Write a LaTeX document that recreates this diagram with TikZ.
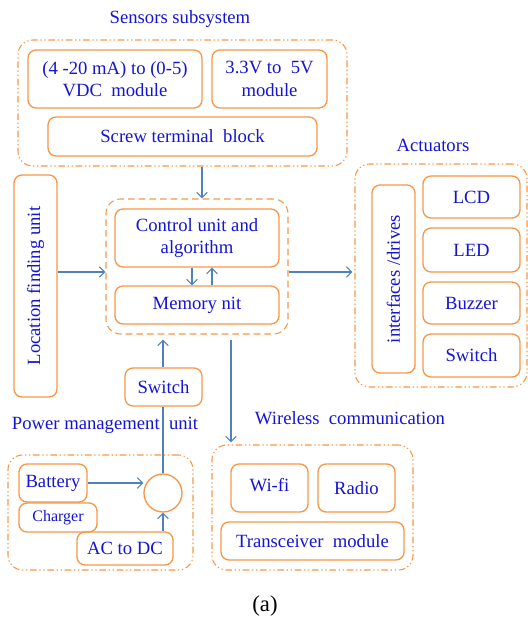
\documentclass[tikz,border=0pt]{standalone}
\usepackage{fontspec}
\setmainfont{Liberation Serif}
\usetikzlibrary{arrows.meta,calc}
\definecolor{orng}{RGB}{247,150,70}
\definecolor{txtb}{RGB}{20,20,210}
\definecolor{arrb}{RGB}{79,129,189}
\begin{document}
\begin{tikzpicture}[x=0.75pt,y=-0.75pt,
 sz/.style 2 args={minimum width=#1*0.75pt, minimum height=#2*0.75pt},
 inbox/.style={draw=orng, line width=1pt, rounded corners=6pt, text=txtb, font=\fontsize{14}{17}\selectfont, align=center, inner sep=0pt},
 outbox/.style={draw=orng, line width=0.8pt, rounded corners=11pt, inner sep=0pt, dash pattern=on 5pt off 2pt on 1pt off 2pt on 1pt off 2pt},
 dbox/.style={draw=orng, line width=0.8pt, rounded corners=11pt, inner sep=0pt, dash pattern=on 5pt off 3pt},
 ttl/.style={text=txtb, font=\fontsize{14}{17}\selectfont, inner sep=0pt},
 vtxt/.style={text=txtb, font=\fontsize{14}{17}\selectfont, rotate=90, inner sep=0pt},
 arr/.style={draw=arrb, line width=0.8pt, -{Straight Barb[length=4pt,width=8pt]}},
 ln/.style={draw=arrb, line width=0.8pt}]
\useasboundingbox (0,0) rectangle (528,621);

% Sensors subsystem
\node[ttl] (tsens) at (180,19) {Sensors subsystem};
\node[outbox, sz={329}{126}] (sens) at (182.5,103) {};
\node[inbox, sz={174}{58}] (s1) at (115,79) {(4 -20 mA) to (0-5)\\VDC\ \ module};
\node[inbox, sz={115}{58}] (s2) at (269.5,79) {3.3V to\ \ 5V\\module};
\node[inbox, sz={269}{39}] (screw) at (182.5,136.5) {Screw terminal\ \ block};

% Control
\node[dbox, sz={182}{135}] (ctrl) at (197,266.5) {};
\node[inbox, sz={164}{58}] (cu) at (197,238) {Control unit and\\algorithm};
\node[inbox, sz={164}{38}] (mem) at (197,305) {Memory nit};

% Location
\node[inbox, sz={43}{222}] (loc) at (35.5,286) {};
\node[vtxt] (loct) at (loc.center) {Location finding unit};

% Actuators
\node[ttl] (tact) at (433,145) {Actuators};
\node[outbox, sz={172}{223}] (act) at (441,275.5) {};
\node[inbox, sz={43}{188}] (intf) at (393.5,279) {};
\node[vtxt] (intft) at (intf.center) {interfaces /drives};
\node[inbox, sz={97}{42}] (lcd) at (471.5,197) {LCD};
\node[inbox, sz={97}{44}] (led) at (471.5,250) {LED};
\node[inbox, sz={97}{42}] (buz) at (471.5,303) {Buzzer};
\node[inbox, sz={97}{43}] (asw) at (471.5,355.5) {Switch};

% Power
\node[inbox, sz={77}{38}] (psw) at (163.5,387) {Switch};
\node[ttl] (tpow) at (105,425) {Power management\ \ unit};
\node[outbox, sz={185}{115}] (pow) at (100.5,512.5) {};
\node[inbox, sz={68}{38}] (bat) at (53,483) {Battery};
\node[inbox, sz={78}{29}, font=\fontsize{12}{14}\selectfont] (chg) at (58,517.5) {Charger};
\node[inbox, sz={96}{33}] (acdc) at (125,548.5) {AC to DC};
\node[draw=orng, line width=1pt, circle, minimum size=38*0.75pt, inner sep=0pt] (circ) at (163,493) {};

% Wireless
\node[ttl] (twl) at (350,418) {Wireless\ \ communication};
\node[outbox, sz={201}{125}] (wl) at (312.5,507.5) {};
\node[inbox, sz={77}{48}] (wifi) at (269.5,488) {\raisebox{4pt}{Wi-fi}};
\node[inbox, sz={77}{48}] (radio) at (356.5,488) {Radio};
\node[inbox, sz={183}{38}] (trx) at (312.5,541) {Transceiver\ \ module};

\node[font=\fontsize{17}{20}\selectfont, inner sep=0pt] (cap) at (265,606) {(a)};

% helper coordinates
\coordinate (xs) at (202,0);
\coordinate (yl) at (0,272);
\coordinate (xd) at (192,0);
\coordinate (xu) at (212,0);
\coordinate (xw) at (231,0);

% connectors
\draw[arr] (sens.south -| xs) -- (ctrl.north -| xs);
\draw[arr] (loc.east |- yl) -- (ctrl.west |- yl);
\draw[arr] (ctrl.east |- yl) -- ($(act.west |- yl)+(-2,0)$);
\draw[arr] (cu.south -| xd) -- (mem.north -| xd);
\draw[arr] (mem.north -| xu) -- (cu.south -| xu);
\draw[arr] (psw.north -| circ.north) -- ($(ctrl.south -| circ.north)+(0,5)$);
\draw[ln] (circ.north) -- (psw.south -| circ.north);
\draw[arr] (bat.east) -- (bat.east -| circ.west);
\draw[arr] (circ.south |- acdc.north) -- (circ.south);
\draw[arr] ($(ctrl.south -| xw)+(0,5)$) -- ($(wl.north -| xw)+(0,-2)$);
\end{tikzpicture}
\end{document}
